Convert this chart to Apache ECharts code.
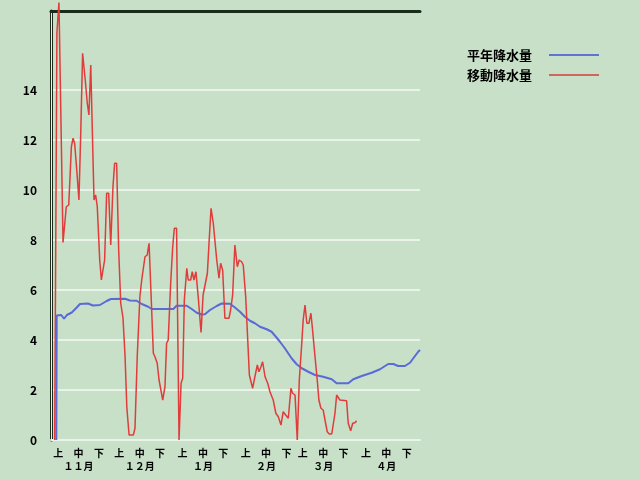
<!DOCTYPE html>
<html><head><meta charset="utf-8">
<script src="https://cdn.jsdelivr.net/npm/echarts@6/dist/echarts.min.js"></script>
<style>html,body{margin:0;padding:0;background:#c8e0c8;}#c{width:640px;height:480px;}</style>
</head><body><div id="c"></div>
<script>
// Calendar (season starts Nov 1, day 0)
const months = ['１１月','１２月','１月','２月','３月','４月'];
const monthDays = [30,31,31,28,31,30];
const dekads = ['上','中','下'];
const seriesNames = ['平年降水量','移動降水量'];
const yTickValues = [0,2,4,6,8,10,12,14];

// 平年降水量: [day, mm]
const normalPrecip = [
 [2.6,0],[2.8,4.98],[5.05,5.0],[6.4,4.85],[7.8,5.0],[10.2,5.1],[12.6,5.3],[14.2,5.44],
 [18.1,5.46],[20.6,5.38],[24.0,5.4],[27.3,5.56],[29.4,5.64],[36.3,5.65],[38.7,5.58],
 [42.0,5.57],[44.5,5.44],[47.7,5.33],[49.4,5.24],[60.0,5.24],[61.6,5.37],[66.6,5.37],
 [69.0,5.24],[71.5,5.09],[73.9,5.02],[75.5,5.03],[78.0,5.2],[81.3,5.36],[83.7,5.46],
 [87.8,5.45],[90.2,5.3],[92.7,5.13],[95.1,4.93],[97.6,4.77],[100.0,4.67],[102.5,4.53],
 [105.8,4.43],[108.2,4.33],[110.3,4.13],[112.3,3.93],[114.7,3.67],[118.0,3.27],
 [120.5,3.03],[123.0,2.87],[126.2,2.73],[129.5,2.6],[133.5,2.53],[137.7,2.43],
 [140.1,2.27],[145.8,2.27],[148.3,2.43],[152.4,2.56],[157.3,2.69],[161.4,2.83],
 [165.4,3.04],[167.9,3.04],[170.3,2.96],[173.6,2.96],[176.1,3.09],[180.1,3.53],[181,3.6]
];

// 移動降水量: [day, mm]
const movingPrecip = [
 [1.8,0],[2.9,16.3],[3.9,17.5],[5.9,7.9],[7.5,9.33],[8.7,9.4],[10.0,11.73],[10.8,12.07],
 [11.6,11.87],[12.75,10.67],[13.7,9.6],[14.6,12.3],[15.5,15.47],[16.8,14.4],[17.8,13.47],
 [18.6,13.0],[19.5,15.0],[20.3,12.27],[21.1,9.6],[21.9,9.8],[22.7,9.33],[23.9,7.2],
 [24.7,6.4],[25.5,6.33],[26.3,7.2],[27.3,9.87],[28.3,9.87],[29.3,7.8],[30.4,10.13],
 [31.2,11.07],[32.2,11.07],[33.2,7.6],[34.2,5.47],[35.3,4.9],[36.3,3.4],[37.2,1.3],
 [38.3,0.2],[40.4,0.2],[41.2,0.47],[42.3,3.33],[43.6,5.73],[44.5,6.4],[45.3,6.47],
 [46.1,7.33],[47.2,7.4],[48.1,7.87],[49.0,6.0],[50.2,3.47],[51.0,3.33],[52.1,3.07],
 [53.0,2.4],[53.8,2.33],[54.8,1.6],[55.9,2.13],[56.7,3.87],[57.5,4.0],[58.7,6.27],
 [59.7,7.73],[60.5,8.47],[61.6,8.47],[62.1,4.93],[62.8,0],[63.8,2.27],[64.6,2.47],
 [65.4,5.6],[66.6,6.87],[67.3,6.4],[68.5,6.4],[69.3,6.73],[70.1,6.4],[71.1,6.73],
 [72.2,5.73],[73.6,4.3],[74.6,5.8],[75.5,5.8],[76.7,6.67],[77.6,8.0],[78.5,9.27],
 [79.6,8.67],[81.3,7.2],[82.4,6.47],[83.2,7.07],[84.2,6.8],[85.3,4.87],[87.3,4.87],
 [88.1,5.2],[89.1,5.8],[90.2,7.8],[91.4,6.93],[92.3,7.2],[93.5,7.13],[94.3,7.0],
 [95.5,5.73],[96.5,4.0],[97.3,2.6],[98.1,2.53],[98.9,2.07],[100.0,2.53],[101.2,3.0],
 [102.0,2.73],[103.0,2.93],[103.8,3.13],[105.0,2.53],[106.3,2.27],[107.4,1.93],
 [108.2,1.87],[109.0,1.6],[110.3,1.07],[111.5,0.93],[111.8,0.93],[112.8,0.6],
 [113.9,1.13],[115.1,1.0],[116.4,0.87],[117.7,2.07],[118.5,1.87],[119.7,1.8],
 [120.8,0],[121.8,2.4],[123.0,3.87],[123.7,4.8],[124.6,5.4],[125.5,4.67],[126.5,4.67],
 [127.5,5.07],[128.3,4.4],[129.5,3.33],[130.6,2.4],[131.4,1.6],[132.4,1.27],[133.5,1.2],
 [134.4,0.8],[135.5,0.33],[136.5,0.24],[137.7,0.24],[138.5,0.27],[139.3,1.07],
 [140.1,1.8],[140.9,1.87],[141.7,1.6],[145.0,1.57],[145.8,0.67],[147.0,0.37],
 [148.0,0.67],[149.1,0.69],[149.9,0.77]
];

// build x label positions from the calendar
const labelPos = [], labelText = {};
let start = 0;
months.forEach((m, i) => {
  [3.5, 13.5, 23.5].forEach((off, k) => {
    const v = start + off;
    labelPos.push(v);
    labelText[v.toFixed(1)] = k === 1 ? dekads[k] + '\n' + m : dekads[k];
  });
  start += monthDays[i];
});
const totalDays = start;

const FONT = '"Noto Sans CJK JP", sans-serif';
const chart = echarts.init(document.getElementById('c'));
const light = '#eaf3ea';
chart.setOption({
  backgroundColor: '#c8e0c8',
  animation: false,
  grid: { left: 51, right: 220, top: 11, bottom: 40 },
  legend: {
    orient: 'vertical', left: 462, top: 43, align: 'right',
    icon: 'rect', itemWidth: 50, itemHeight: 2, itemGap: 6,
    textStyle: { fontFamily: FONT, fontSize: 13, fontWeight: 'bold', color: '#000', lineHeight: 14, padding: [0, 12, 0, 0] },
    data: seriesNames
  },
  xAxis: [{
    type: 'value', min: 0, max: totalDays,
    axisLine: { show: true, lineStyle: { color: light, width: 2 } },
    axisTick: { show: false },
    splitLine: { show: false },
    axisLabel: {
      customValues: labelPos,
      formatter: v => labelText[Number(v).toFixed(1)] || '',
      fontFamily: FONT, fontSize: 10, fontWeight: 'bold', color: '#000',
      lineHeight: 13, margin: 7
    }
  }, {
    type: 'value', min: 0, max: totalDays, position: 'top',
    axisLine: { show: true, onZero: false, lineStyle: { color: '#1c2c1c', width: 3 } },
    axisTick: { show: false }, axisLabel: { show: false }, splitLine: { show: false }
  }],
  yAxis: [{
    type: 'value', min: 0, max: 17.16, interval: 2,
    axisLine: { show: true, lineStyle: { color: '#1c2c1c', width: 3 } },
    axisTick: { show: false },
    axisLabel: {
      formatter: v => (yTickValues.indexOf(v) >= 0 ? String(v) : ''),
      fontFamily: FONT, fontSize: 12, fontWeight: 'bold', color: '#000', margin: 14
    },
    splitLine: { show: true, lineStyle: { width: 2, color: [light, light, light, light, light, light, light, light, 'rgba(0,0,0,0)', 'rgba(0,0,0,0)'] } }
  }, {
    type: 'value', min: 0, max: 17.16, position: 'right',
    axisLine: { show: true, lineStyle: { color: light, width: 1 } },
    axisTick: { show: false }, axisLabel: { show: false }, splitLine: { show: false }
  }],
  series: [{
    name: seriesNames[0], type: 'line', data: normalPrecip,
    symbol: 'none', clip: false,
    lineStyle: { color: '#5a6ad6', width: 2 }, itemStyle: { color: '#6272d2' }
  }, {
    name: seriesNames[1], type: 'line', data: movingPrecip,
    symbol: 'none', clip: false,
    lineStyle: { color: '#e03c3c', width: 1.5 }, itemStyle: { color: '#d2665c' }
  }]
});
</script></body></html>
